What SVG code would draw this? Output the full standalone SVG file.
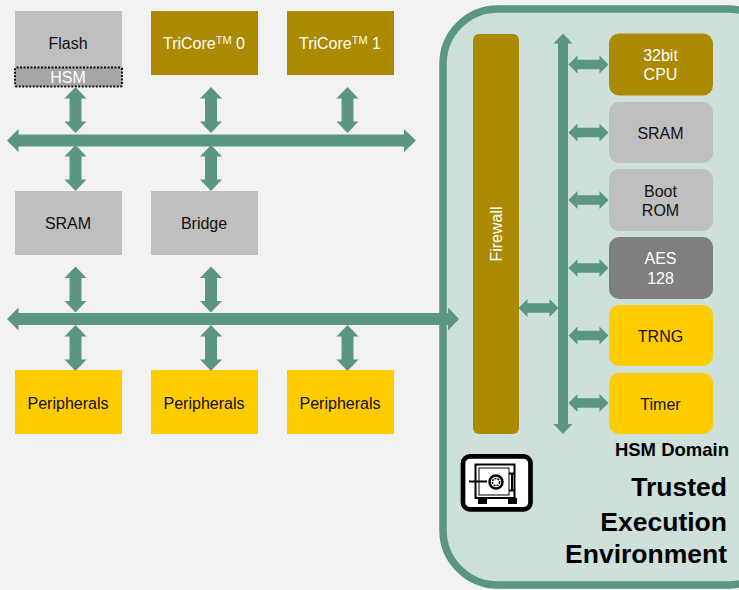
<svg xmlns="http://www.w3.org/2000/svg" width="739" height="590" viewBox="0 0 739 590">
<style>
text{font-family:"Liberation Sans",Arial,sans-serif;font-size:16px;text-anchor:middle;fill:#111}
.w{fill:#fff}
.g{fill:#bfbfbf}.o{fill:#ab8900}.y{fill:#ffcc00}
.a{fill:#5a9680}
.b{font-weight:bold;text-anchor:end;fill:#000}
</style>
<defs>
<path id="v" class="a" d="M0 0L11 11.500H6V34.500H11L0 46L-11 34.500H-6V11.500H-11Z"/>
<path id="h" class="a" d="M0 0L9 -9V-4.800H31V-9L40 0L31 9V4.800H9V9Z"/>
</defs>
<rect width="739" height="590" fill="#f2f2f2"/>
<g id="tee"><rect x="443" y="9" width="340" height="576" rx="55" fill="#cde1da" stroke="#5a9680" stroke-width="7.500"/></g>
<g id="flash"><rect x="15" y="11" width="107" height="66" class="g"/><text x="68" y="49">Flash</text></g>
<g id="hsm"><rect x="15" y="67.500" width="107" height="19" rx="1.500" fill="#a6a6a6" stroke="#111" stroke-width="2" stroke-dasharray="2 1.500"/><text x="68" y="83" class="w">HSM</text></g>
<g id="tricore0"><rect x="151" y="11" width="107" height="64" class="o"/><text x="204" y="49" class="w">TriCore<tspan font-size="11" dy="-5">TM</tspan><tspan dy="5"> 0</tspan></text></g>
<g id="tricore1"><rect x="287" y="11" width="107" height="64" class="o"/><text x="340" y="49" class="w">TriCore<tspan font-size="11" dy="-5">TM</tspan><tspan dy="5"> 1</tspan></text></g>
<g id="sram"><rect x="15" y="191" width="107" height="64" class="g"/><text x="68" y="229">SRAM</text></g>
<g id="bridge"><rect x="151" y="191" width="107" height="64" class="g"/><text x="204" y="229">Bridge</text></g>
<g id="per0"><rect x="15" y="370" width="107" height="64" class="y"/><text x="68" y="409">Peripherals</text></g>
<g id="per1"><rect x="151" y="370" width="107" height="64" class="y"/><text x="204" y="409">Peripherals</text></g>
<g id="per2"><rect x="287" y="370" width="107" height="64" class="y"/><text x="340" y="409">Peripherals</text></g>
<g id="firewall"><rect x="473" y="34" width="46" height="400" rx="6" class="o"/><text transform="translate(502 234) rotate(-90)" class="w">Firewall</text></g>
<g id="cpu"><rect x="609" y="33.500" width="104" height="62" rx="10" class="o"/><text x="660.500" y="61" class="w">32bit</text><text x="660.500" y="80" class="w">CPU</text></g>
<g id="hsram"><rect x="609" y="102" width="104" height="61" rx="10" class="g"/><text x="660.500" y="139">SRAM</text></g>
<g id="rom"><rect x="609" y="169" width="104" height="62" rx="10" class="g"/><text x="660.500" y="197">Boot</text><text x="660.500" y="216">ROM</text></g>
<g id="aes"><rect x="609" y="237" width="104" height="62" rx="10" fill="#7f7f7f"/><text x="660.500" y="264" class="w">AES</text><text x="660.500" y="284" class="w">128</text></g>
<g id="trng"><rect x="609" y="305" width="104" height="61" rx="10" class="y"/><text x="660.500" y="342">TRNG</text></g>
<g id="timer"><rect x="609" y="373" width="104" height="61" rx="10" class="y"/><text x="660.500" y="410">Timer</text></g>
<g id="connectors">
<path class="a" d="M7 140.500L18.500 129V134.500H404V129L416 140.500L404 152V146.500H18.500V152Z"/>
<path class="a" d="M7 319L18.500 307.500V313H448V307.500L459 319L448 330.500V325H18.500V330.500Z"/>
<path class="a" d="M563 33.500L572.500 43.500H568V424H572.500L563 434L553.500 424H558V43.500H553.500Z"/>
<use href="#v" x="75.500" y="87"/><use href="#v" x="211" y="87"/><use href="#v" x="347.500" y="87"/>
<use href="#v" x="75.500" y="145"/><use href="#v" x="211" y="145"/>
<use href="#v" x="75.500" y="266.500"/><use href="#v" x="211" y="266.500"/>
<use href="#v" x="75.500" y="325"/><use href="#v" x="211" y="325"/><use href="#v" x="347.500" y="325"/>
<use href="#h" x="518.500" y="308"/>
<use href="#h" x="568.500" y="64.500"/><use href="#h" x="568.500" y="132.500"/><use href="#h" x="568.500" y="200"/>
<use href="#h" x="568.500" y="268"/><use href="#h" x="568.500" y="335.500"/><use href="#h" x="568.500" y="403"/>
</g>
<g id="safe">
<rect x="463" y="456.400" width="67.500" height="53" rx="7" fill="#fff" stroke="#000" stroke-width="4.700"/>
<rect x="475.500" y="464.500" width="39" height="33.500" fill="none" stroke="#000" stroke-width="2"/>
<rect x="479" y="468" width="30" height="27" fill="#fff" stroke="#000" stroke-width="1"/>
<rect x="478" y="498" width="9" height="6"/><rect x="508" y="498" width="9" height="6"/>
<path d="M469 481.500H487M512 473.500V490.500M509 473.500H515M509 490.500H515" fill="none" stroke="#000" stroke-width="2"/>
<circle cx="496" cy="482" r="6.500" fill="#fff" stroke="#000" stroke-width="2.500"/><circle cx="496" cy="482" r="3.600" fill="none" stroke="#000" stroke-width="1.500" stroke-dasharray="2 1"/>
</g>
<text x="729" y="456" class="b" style="font-size:18.500px">HSM Domain</text>
<text x="727" y="496" class="b" style="font-size:26.500px">Trusted</text>
<text x="727" y="531" class="b" style="font-size:26.500px">Execution</text>
<text x="727" y="563" class="b" style="font-size:26.500px">Environment</text>
</svg>
